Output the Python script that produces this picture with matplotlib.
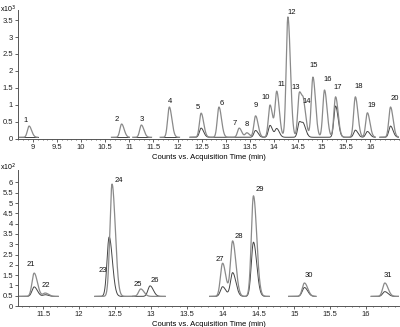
import matplotlib
matplotlib.use('Agg')
import matplotlib.pyplot as plt
import numpy as np
from matplotlib.ticker import MultipleLocator

plt.rcParams['font.family'] = ['Liberation Sans', 'DejaVu Sans']
plt.rcParams['font.size'] = 5.5

# ---- top panel (x10^3 counts) ----
top_ids = list(range(1, 21))
top_rt = [8.92, 10.84, 11.25, 11.83, 12.49, 12.86, 13.28, 13.44, 13.62, 13.92,
          14.06, 14.29, 14.53, 14.62, 14.81, 15.05, 15.28, 15.69, 15.94, 16.42]
top_quant = [0.38, 0.44, 0.41, 0.94, 0.76, 0.94, 0.32, 0.18, 0.68, 1.00,
             1.38, 3.59, 1.35, 0.85, 1.82, 1.44, 1.24, 1.24, 0.77, 0.94]
top_qual = [0.0, 0.0, 0.0, 0.0, 0.32, 0.0, 0.0, 0.0, 0.25, 0.40,
            0.30, 0.0, 0.50, 0.35, 0.0, 0.0, 0.97, 0.26, 0.22, 0.38]
top_segments = [(8.69, 9.10), (10.63, 11.00), (11.07, 11.46), (11.64, 12.04),
                (12.26, 13.08), (13.10, 14.70), (14.70, 16.10), (16.20, 16.60)]
top_base = 0.05
top_xticks = [9, 9.5, 10, 10.5, 11, 11.5, 12, 12.5, 13, 13.5, 14, 14.5, 15, 15.5, 16]
top_yticks = [0, 0.5, 1, 1.5, 2, 2.5, 3, 3.5]

# ---- bottom panel (x10^2 counts) ----
bot_ids = list(range(21, 32))
bot_rt = [11.375, 11.53, 12.42, 12.46, 12.86, 12.99, 14.00, 14.14, 14.43, 15.14, 16.26]
bot_quant = [1.60, 0.63, 0.0, 5.92, 0.83, 0.0, 2.08, 3.15, 5.35, 1.12, 1.12]
bot_qual = [0.93, 0.55, 3.35, 0.0, 0.0, 0.98, 0.94, 1.62, 3.10, 0.90, 0.70]
bot_segments = [(11.15, 11.71), (12.22, 12.78), (12.75, 13.20), (13.82, 14.65),
                (14.92, 15.30), (16.07, 16.46)]
bot_base = 0.47
bot_xticks = [11.5, 12, 12.5, 13, 13.5, 14, 14.5, 15, 15.5, 16]
bot_yticks = [0, 0.5, 1, 1.5, 2, 2.5, 3, 3.5, 4, 4.5, 5, 5.5, 6]

# label offsets in pixels from the peak apex
top_lab_off = [(-3, 3), (-5, 2), (0, 3), (1, 3), (-3, 3), (3, 1), (-4, 2), (0, 6),
               (0, 8), (-4, 5), (5, 5), (4, 2), (-4, 3), (3, 6), (1, 9), (3, 8),
               (2, 7), (3, 8), (4, 5), (4, 6)]
bot_lab_off = [(-3, 6), (1, 5), (-6, -36), (7, 1), (-3, 2), (5, 3), (-3, 1),
               (6, 2), (6, 4), (4, 5), (3, 5)]


def peak(t, rt, h, s):
    sig = np.where(t < rt, s, s * 1.5)
    return h * np.exp(-0.5 * ((t - rt) / sig) ** 2)


def draw_panel(ax, segments, rts, quant, qual, base, sigma):
    for lo, hi in segments:
        t = np.linspace(lo, hi, 400)
        y1 = np.full_like(t, base)
        y2 = np.full_like(t, base)
        for rt, hq, hl in zip(rts, quant, qual):
            if hq > 0:
                y1 += peak(t, rt, hq - base, sigma)
            if hl > 0:
                y2 += peak(t, rt, hl - base, sigma)
        ax.plot(t, y2, color='#444444', lw=0.7)
        ax.plot(t, y1, color='#8a8a8a', lw=0.9)


def style(ax, xt, yt):
    for s in ['top', 'right']:
        ax.spines[s].set_visible(False)
    for s in ['left', 'bottom']:
        ax.spines[s].set_color('#555555')
        ax.spines[s].set_linewidth(0.7)
    ax.tick_params(length=2, width=0.5, pad=1.5, colors='#222222', labelsize=5.5)
    ax.tick_params(which='minor', length=1, width=0.4)
    ax.set_xticks(xt)
    ax.set_yticks(yt)
    ax.xaxis.set_minor_locator(MultipleLocator(0.1))
    ax.set_xticklabels([f'{v:g}' for v in xt])
    ax.set_yticklabels([f'{v:g}' for v in yt])
    ax.set_xlabel('Counts vs. Acquisition Time (min)', fontsize=5.5, labelpad=2)


fig = plt.figure(figsize=(4.0, 3.27), dpi=100)
ax1 = fig.add_axes([0.045, 0.575, 0.953, 0.395])
ax2 = fig.add_axes([0.045, 0.064, 0.953, 0.416])

draw_panel(ax1, top_segments, top_rt, top_quant, top_qual, top_base, 0.035)
ax1.set_xlim(8.69, 16.6)
ax1.set_ylim(0, 3.8)
style(ax1, top_xticks, top_yticks)

draw_panel(ax2, bot_segments, bot_rt, bot_quant, bot_qual, bot_base, 0.03)
ax2.set_xlim(11.15, 16.46)
ax2.set_ylim(0, 6.6)
style(ax2, bot_xticks, bot_yticks)

for ax, ids, rts, hq, hl, offs in [(ax1, top_ids, top_rt, top_quant, top_qual, top_lab_off),
                                   (ax2, bot_ids, bot_rt, bot_quant, bot_qual, bot_lab_off)]:
    for i, rt, a, b, (dx, dy) in zip(ids, rts, hq, hl, offs):
        ax.annotate(str(i), (rt, max(a, b)), xytext=(dx * 0.72, dy * 0.72 + 2),
                    textcoords='offset points', ha='center', va='center',
                    fontsize=5.5, color='#111111')

fig.text(0.0, 0.99, r'x10$^3$', fontsize=5, va='top', ha='left')
fig.text(0.0, 0.505, r'x10$^2$', fontsize=5, va='top', ha='left')

fig.savefig('out.png', dpi=100)
